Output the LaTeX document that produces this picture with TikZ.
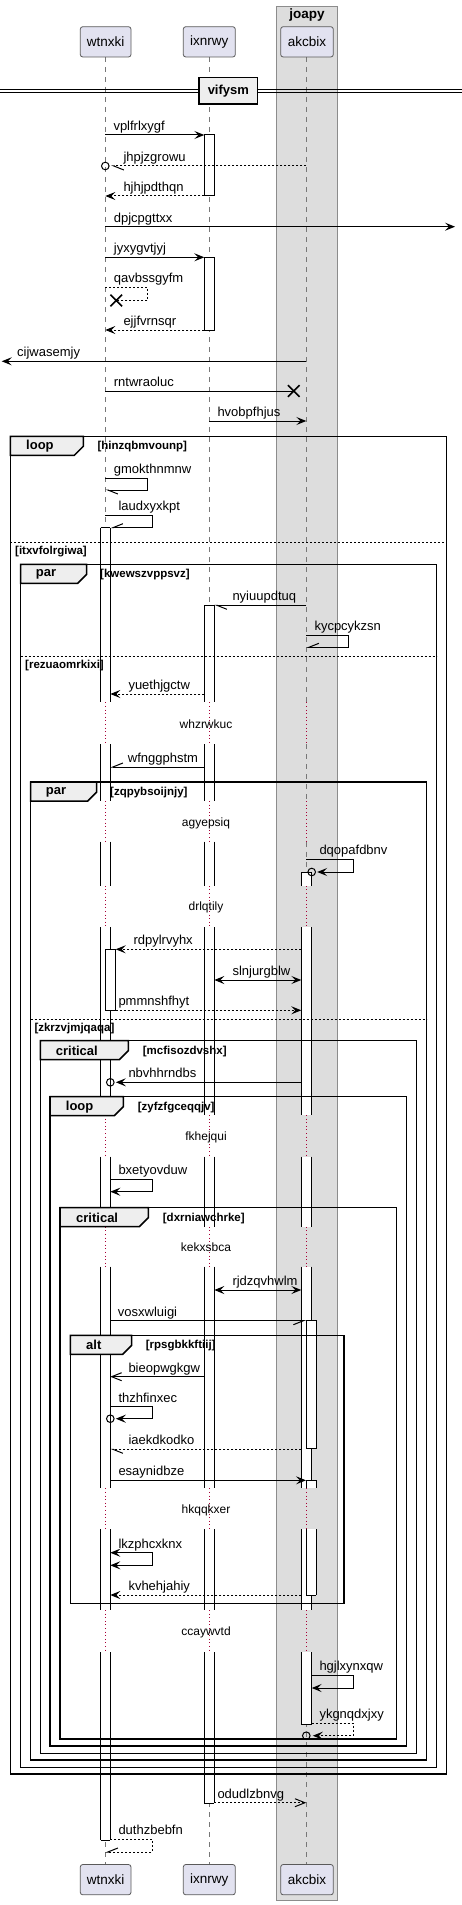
\documentclass[tikz,border=0pt]{standalone}
\usepackage{fontspec}
\setmainfont{Liberation Sans}
\usetikzlibrary{arrows.meta,shapes.misc}
\definecolor{partfill}{HTML}{E2E2F0}
\definecolor{partline}{HTML}{5A5A5A}
\definecolor{boxfill}{HTML}{DDDDDD}
\definecolor{boxline}{HTML}{8C8C8C}
\definecolor{tabfill}{HTML}{EEEEEE}
\definecolor{delayred}{HTML}{A80036}
\definecolor{lifegray}{HTML}{777777}

\newcommand\mymsg[6]{%
 \draw[#1] (#2|-0,#4) -- (#3|-0,#4);
 \node[lbl] (t-#5) at (#6,{#4-4.5}) {#5};}
\newcommand\myself[8]{%
 \draw[#1] (#2|-0,#4) -- (#3,#4) -- (#3,#5) -- (#6|-0,#5);
 \node[lbl] (t-#7) at (#8,{#4-4.5}) {#7};}
\newcommand\lifel[1]{%
 \draw[life] (#1|-0,57) -- (#1|-0,702.3) (#1|-0,744) -- (#1|-0,801)
   (#1|-0,841.7) -- (#1|-0,885.7) (#1|-0,927) -- (#1|-0,1115)
   (#1|-0,1156.7) -- (#1|-0,1226.7) (#1|-0,1266.7) -- (#1|-0,1488.3)
   (#1|-0,1529.3) -- (#1|-0,1610) (#1|-0,1652.3) -- (#1|-0,1864.3);
 \draw[delayl] (#1|-0,702.3) -- (#1|-0,744) (#1|-0,801) -- (#1|-0,841.7)
   (#1|-0,885.7) -- (#1|-0,927) (#1|-0,1115) -- (#1|-0,1156.7)
   (#1|-0,1226.7) -- (#1|-0,1266.7) (#1|-0,1488.3) -- (#1|-0,1529.3)
   (#1|-0,1610) -- (#1|-0,1652.3);}
\newcommand\actseg[4]{\fill[white] (#1,#3) rectangle (#2,#4);
 \draw[actl] (#1,#3) -- (#1,#4) (#2,#3) -- (#2,#4);}
\newcommand\actcap[3]{\draw[actl] (#1,#3) -- (#2,#3);}
\newcommand\actfull[4]{\draw[actl,fill=white] (#1,#3) rectangle (#2,#4);}
\newcommand\frm[9]{%
 \draw[frame] (#1,#2) rectangle (#3,#4);
 \draw[frame,fill=tabfill] (#1,#2) -- (#5,#2) -- (#5,{#2+10}) -- ({#5-9},{#2+19}) -- (#1,{#2+19}) -- cycle;
 \node[tablbl] (k-#8) at (#7,{#2+10}) {#6};
 \node[guard] (g-#8) at (#9,{#2+10.5}) {[#8]};}
\newcommand\elsesep[5]{\draw[sepl] (#1,#3) -- (#2,#3);
 \node[guard] (g-#4) at (#5,{#3+9}) {[#4]};}

\begin{document}
\begin{tikzpicture}[x=1pt,y=-1pt,
 lbl/.style={anchor=base west,inner sep=0pt,font=\fontsize{13}{15}\selectfont},
 guard/.style={anchor=west,inner sep=0pt,font=\bfseries\fontsize{11.5}{13}\selectfont},
 tablbl/.style={anchor=west,inner sep=0pt,font=\bfseries\fontsize{13}{15}\selectfont},
 dtxt/.style={inner sep=0pt,font=\fontsize{12}{14}\selectfont},
 part/.style={draw=partline,fill=partfill,rounded corners=2.5pt,line width=0.8pt,minimum height=30.3pt,inner sep=0pt,font=\fontsize{13.5}{16}\selectfont},
 life/.style={draw=lifegray,line width=0.7pt,dash pattern=on 5pt off 5pt},
 delayl/.style={draw=delayred,line width=0.8pt,dash pattern=on 1pt off 2.6pt},
 actl/.style={draw=black,line width=1pt},
 frame/.style={draw=black,line width=1.5pt},
 sepl/.style={draw=black,line width=1pt,dash pattern=on 2pt off 2pt},
 m/.style={draw=black,line width=1pt},
 dsh/.style={dash pattern=on 2pt off 2pt},
 tS/.tip={Stealth[length=10pt,width=8pt,inset=4pt]},
 stl/.style={-tS},
 stl2/.style={tS-tS},
 opn/.style={-{Straight Barb[length=10pt,width=8pt]}},
 hL/.style={-{Straight Barb[length=10pt,width=8pt,harpoon]}},
 hR/.style={-{Straight Barb[length=10pt,width=8pt,harpoon,swap]}},
 circ/.style={draw=black,line width=1pt},
 xm/.style={cross out,draw=black,line width=1.6pt,minimum size=10pt,inner sep=0pt}
]
\useasboundingbox (0,0) rectangle (462,1905);
\coordinate (W) at (105.3,0); \coordinate (I) at (209.3,0); \coordinate (A) at (306.3,0);
\coordinate (Wl) at (100.7,0); \coordinate (Wr) at (110.3,0); \coordinate (Wr2) at (115.7,0);
\coordinate (Il) at (204.3,0); \coordinate (Ir) at (214.3,0);
\coordinate (Al) at (301.3,0); \coordinate (Ar) at (311.7,0);
\coordinate (Al2) at (306,0); \coordinate (Ar2) at (316,0);
\coordinate (LE) at (1.7,0); \coordinate (RE) at (455,0);

% group box
\draw[draw=boxline,fill=boxfill,line width=0.8pt] (276.7,6) rectangle (337.3,1900);
\node[inner sep=0pt,font=\bfseries\fontsize{13.5}{16}\selectfont] (grp) at (307,15.5) {joapy};

% lifelines
\lifel{W}\lifel{I}\lifel{A}

% delay texts
\node[dtxt] (d1) at (206,724.3) {whzrwkuc};
\node[dtxt] (d2) at (206,823.3) {agyepsiq};
\node[dtxt] (d3) at (206,907.3) {drlqtily};
\node[dtxt] (d4) at (206,1137.3) {fkhejqui};
\node[dtxt] (d5) at (206,1247.3) {kekxsbca};
\node[dtxt] (d6) at (206,1510.3) {hkqqkxer};
\node[dtxt] (d7) at (206,1632.7) {ccaywvtd};

% activations
\actfull{204.3}{214.3}{135}{196}
\actfull{204.3}{214.3}{257.3}{330}
% wtnxki main
\actseg{100.7}{110.3}{527.7}{702.3}\actseg{100.7}{110.3}{744}{801}
\actseg{100.7}{110.3}{841.7}{885.7}\actseg{100.7}{110.3}{927}{1115}
\actseg{100.7}{110.3}{1156.7}{1226.7}\actseg{100.7}{110.3}{1266.7}{1488.3}
\actseg{100.7}{110.3}{1529.3}{1610}\actseg{100.7}{110.3}{1652.3}{1840}
\actcap{100.7}{110.3}{527.7}\actcap{100.7}{110.3}{1840}
% ixnrwy main
\actseg{204.3}{214.3}{605.3}{702.3}\actseg{204.3}{214.3}{744}{801}
\actseg{204.3}{214.3}{841.7}{885.7}\actseg{204.3}{214.3}{927}{1115}
\actseg{204.3}{214.3}{1156.7}{1226.7}\actseg{204.3}{214.3}{1266.7}{1488.3}
\actseg{204.3}{214.3}{1529.3}{1610}\actseg{204.3}{214.3}{1652.3}{1803}
\actcap{204.3}{214.3}{605.3}\actcap{204.3}{214.3}{1803}
% akcbix main
\actseg{301.3}{311.7}{872}{885.7}\actseg{301.3}{311.7}{927}{1115}
\actseg{301.3}{311.7}{1156.7}{1226.7}\actseg{301.3}{311.7}{1266.7}{1488.3}
\actseg{301.3}{311.7}{1529.3}{1610}\actseg{301.3}{311.7}{1652.3}{1724}
\actcap{301.3}{311.7}{872}\actcap{301.3}{311.7}{1724}
% nested
\actfull{105.3}{115.7}{949.3}{1010.3}
\actfull{306}{316}{1320.7}{1448.7}
\actseg{306}{316}{1480.3}{1488.3}\actseg{306}{316}{1529.3}{1595.3}
\actcap{306}{316}{1480.3}\actcap{306}{316}{1595.3}

% frames
\frm{10.3}{436.3}{446.7}{1774}{83.3}{loop}{26}{hinzqbmvounp}{97.3}
\elsesep{10.3}{446.7}{542.3}{itxvfolrgiwa}{15}
\frm{20.7}{564.3}{436.7}{1767.3}{86.7}{par}{35.7}{kwewszvppsvz}{100}
\elsesep{20.7}{436.7}{656.7}{rezuaomrkixi}{25}
\frm{30.7}{782}{426.7}{1760}{96.7}{par}{45.7}{zqpybsoijnjy}{110}
\elsesep{30.7}{426.7}{1019.3}{zkrzvjmjqaqa}{34.3}
\frm{40.3}{1040.7}{416.7}{1753.3}{128.3}{critical}{55.7}{mcfisozdvshx}{142.7}
\frm{50}{1096.7}{406.7}{1746}{123.3}{loop}{65.7}{zyfzfgceqqjv}{137.7}
\frm{60}{1207.7}{396.7}{1739}{148.3}{critical}{76}{dxrniawchrke}{162.7}
\frm{70.3}{1335.3}{344}{1603.3}{131.7}{alt}{86}{rpsgbkkftiij}{145.7}

% messages
\mymsg{m,stl}{W}{Il}{135}{vplfrlxygf}{113.3}
\mymsg{m,dsh,hL,shorten >=6pt}{A}{W}{166}{jhpjzgrowu}{123.3}
\draw[circ] (W|-0,166) circle (3.8pt);
\mymsg{m,dsh,stl}{Il}{W}{196}{hjhjpdthqn}{123.3}
\mymsg{m,stl}{W}{RE}{226.7}{dpjcpgttxx}{113.7}
\mymsg{m,stl}{W}{Il}{257.3}{jyxygvtjyj}{113.7}
\node[xm] (X1) at (116.3,300.5) {};
\myself{m,dsh}{W}{147.7}{287.3}{300.5}{X1}{qavbssgyfm}{113.7}
\mymsg{m,dsh,stl}{Il}{W}{330}{ejjfvrnsqr}{123.3}
\mymsg{m,stl}{A}{LE}{361.3}{cijwasemjy}{17}
\node[xm] (X2) at (293.7,391) {};
\mymsg{m}{W}{X2}{391}{rntwraoluc}{113.7}
\mymsg{m,stl}{I}{A}{421}{hvobpfhjus}{217.3}
\myself{m,hL}{W}{147.7}{478.3}{490}{W}{gmokthnmnw}{113.7}
\myself{m,hR}{W}{152.3}{515.3}{527.7}{Wr}{laudxyxkpt}{118.3}
\mymsg{m,hL}{A}{Ir}{605.3}{nyiuupdtuq}{232.3}
\myself{m,hR}{A}{348.7}{635.3}{647.3}{A}{kycpcykzsn}{314.3}
\mymsg{m,dsh,stl}{Il}{Wr}{694}{yuethjgctw}{128.3}
\mymsg{m,hR}{Il}{Wr}{767}{wfnggphstm}{127.7}
\myself{m,stl,shorten >=5.5pt}{A}{353.3}{859.3}{872}{Ar}{dqopafdbnv}{319.3}
\draw[circ] (Ar|-0,872) circle (3.8pt);
\mymsg{m,dsh,stl}{Al}{Wr2}{949.3}{rdpylrvyhx}{133.3}
\mymsg{m,stl2}{Ir}{Al}{980}{slnjurgblw}{232.3}
\mymsg{m,dsh,stl}{Wr2}{Al}{1010.3}{pmmnshfhyt}{118.3}
\mymsg{m,stl,shorten >=5.5pt}{Al}{Wr}{1082.3}{nbvhhrndbs}{128.3}
\draw[circ] (Wr|-0,1082.3) circle (3.8pt);
\myself{m,stl}{Wr}{152.3}{1179.3}{1191.7}{Wr}{bxetyovduw}{118.3}
\mymsg{m,stl2}{Ir}{Al}{1290}{rjdzqvhwlm}{232.3}
\mymsg{m,hR}{Wr}{Al2}{1320.7}{vosxwluigi}{117.7}
\mymsg{m,opn}{Il}{Wr}{1376.7}{bieopwgkgw}{128.3}
\myself{m,stl,shorten >=5.5pt}{Wr}{152.3}{1406.7}{1418.7}{Wr}{thzhfinxec}{118.3}
\draw[circ] (Wr|-0,1418.7) circle (3.8pt);
\mymsg{m,dsh,hL}{Al}{Wr}{1449.3}{iaekdkodko}{128.3}
\mymsg{m,stl}{Wr}{Al2}{1480.3}{esaynidbze}{118.3}
\myself{m,stl2}{Wr}{152.3}{1552.7}{1565.3}{Wr}{lkzphcxknx}{118.3}
\mymsg{m,dsh,stl}{Al}{Wr}{1595}{kvhehjahiy}{128.3}
\myself{m,stl}{Ar}{353.3}{1675.3}{1688}{Ar}{hgjlxynxqw}{319.3}
\myself{m,dsh,stl,shorten >=6.5pt}{Ar}{353.3}{1723.3}{1735.7}{A}{ykgnqdxjxy}{319.3}
\draw[circ] (A|-0,1735.7) circle (3.8pt);
\mymsg{m,dsh,opn}{Ir}{A}{1802.7}{odudlzbnvg}{217.3}
\myself{m,dsh,hR}{Wr}{152.3}{1839.3}{1852}{W}{duthzbebfn}{118.3}

% participants
\node[part,minimum width=50.7pt] (p1) at (105.65,41.85) {wtnxki};
\node[part,minimum width=52pt] (p2) at (209.3,41.85) {ixnrwy};
\node[part,minimum width=52.6pt] (p3) at (307,41.85) {akcbix};
\node[part,minimum width=50.7pt] (q1) at (105.65,1879.65) {wtnxki};
\node[part,minimum width=52pt] (q2) at (209.3,1879.65) {ixnrwy};
\node[part,minimum width=52.6pt] (q3) at (307,1879.65) {akcbix};

% divider
\draw[line width=1pt] (0,89.8) -- (462,89.8) (0,92.7) -- (462,92.7);
\node[draw=black,line width=1.5pt,fill=tabfill,minimum width=58.7pt,minimum height=26.3pt,inner sep=0pt,font=\bfseries\fontsize{13}{15}\selectfont] (dv) at (228.35,90.85) {vifysm};
\end{tikzpicture}
\end{document}
